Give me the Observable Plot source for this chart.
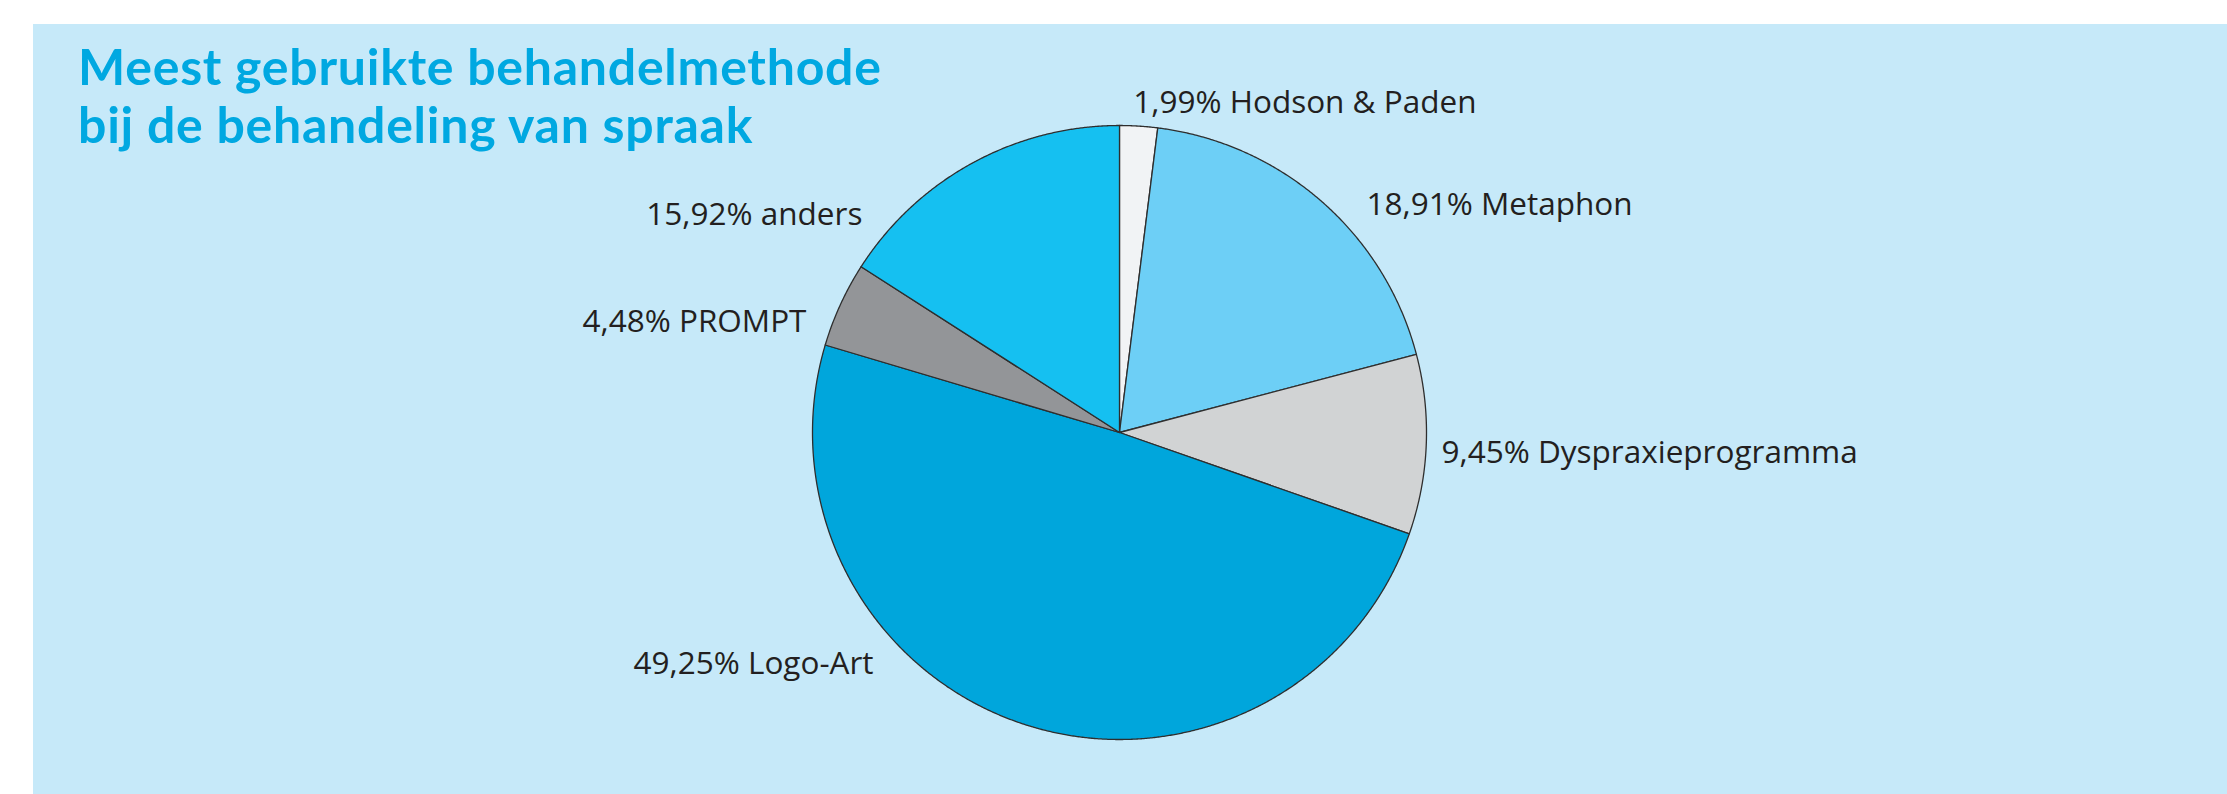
<!DOCTYPE html>
<html>
<head>
<meta charset="utf-8">
<script src="https://cdn.jsdelivr.net/npm/d3@7"></script>
<script src="https://cdn.jsdelivr.net/npm/@observablehq/plot@0.6"></script>
<style>
  html, body { margin: 0; padding: 0; background: #ffffff; }
  #wrap { position: relative; width: 2227px; height: 794px; overflow: hidden; background: #ffffff; }
  #panel { position: absolute; left: 33px; top: 24px; width: 2194px; height: 770px; background: #c6e9f9; }
  #title { position: absolute; left: 78px; top: 37px; font-family: Lato, sans-serif; font-weight: 700;
           font-size: 50px; letter-spacing: 0.75px; line-height: 58px; color: #00a8e1; white-space: nowrap; }
  #chart { position: absolute; left: 0; top: 0; }
</style>
</head>
<body>
<div id="wrap">
  <div id="panel"></div>
  <div id="chart"></div>
  <div id="title">Meest gebruikte behandelmethode<br>bij de behandeling van spraak</div>
</div>
<script>
// ---- data ----
const categories = ["Hodson & Paden", "Metaphon", "Dyspraxieprogramma", "Logo-Art", "PROMPT", "anders"];
const percentages = [1.99, 18.91, 9.45, 49.25, 4.48, 15.92];
const percentLabels = ["1,99%", "18,91%", "9,45%", "49,25%", "4,48%", "15,92%"];

// ---- styles / layout ----
const sliceColors = ["#f1f3f5", "#6dcff6", "#d1d3d4", "#00a6dc", "#939598", "#15c0f1"];
// label placement (angle in degrees clockwise from 12 o'clock, radius as fraction of pie radius)
const labelAngle = [2.4, 47.4, 93.7, 226.8, 289.4, 310.3];
const labelRadius = [1.073, 1.093, 1.051, 1.099, 1.081, 1.098];

const W = 2227, H = 794, cx = 1119, cy = 432, r = 307;

// build slice outlines on a unit circle from the percentages
const total = d3.sum(percentages);
let acc = 0;
const slices = categories.map((c, i) => {
  const a0 = acc / total * 2 * Math.PI;
  acc += percentages[i];
  const a1 = acc / total * 2 * Math.PI;
  const n = Math.max(2, Math.ceil((a1 - a0) / (Math.PI / 720)));
  const pts = [{x: 0, y: 0}];
  for (let k = 0; k <= n; k++) {
    const a = a0 + (a1 - a0) * k / n;
    pts.push({x: Math.sin(a), y: Math.cos(a)});
  }
  pts.push({x: 0, y: 0});
  return {cat: c, color: sliceColors[i], pts};
});

const labels = categories.map((c, i) => {
  const a = labelAngle[i] * Math.PI / 180;
  const x = labelRadius[i] * Math.sin(a);
  return {text: percentLabels[i] + " " + c, x, y: labelRadius[i] * Math.cos(a), side: x >= 0 ? "start" : "end"};
});

const plot = Plot.plot({
  width: W, height: H,
  marginTop: 0, marginRight: 0, marginBottom: 0, marginLeft: 0,
  style: {background: "transparent", overflow: "visible"},
  x: {domain: [-1, 1], range: [cx - r, cx + r], axis: null},
  y: {domain: [-1, 1], range: [cy + r, cy - r], axis: null},
  marks: [
    ...slices.map(s => Plot.line(s.pts, {x: "x", y: "y", fill: s.color, stroke: "#2e2e2e", strokeWidth: 1.3, strokeLinejoin: "round"})),
    Plot.text(labels.filter(d => d.side === "start"), {x: "x", y: "y", text: "text", textAnchor: "start",
      fontFamily: "'Open Sans', sans-serif", fontSize: 31.5, fill: "#231f20"}),
    Plot.text(labels.filter(d => d.side === "end"), {x: "x", y: "y", text: "text", textAnchor: "end",
      fontFamily: "'Open Sans', sans-serif", fontSize: 31.5, fill: "#231f20"})
  ]
});
document.getElementById("chart").appendChild(plot);
</script>
</body>
</html>
